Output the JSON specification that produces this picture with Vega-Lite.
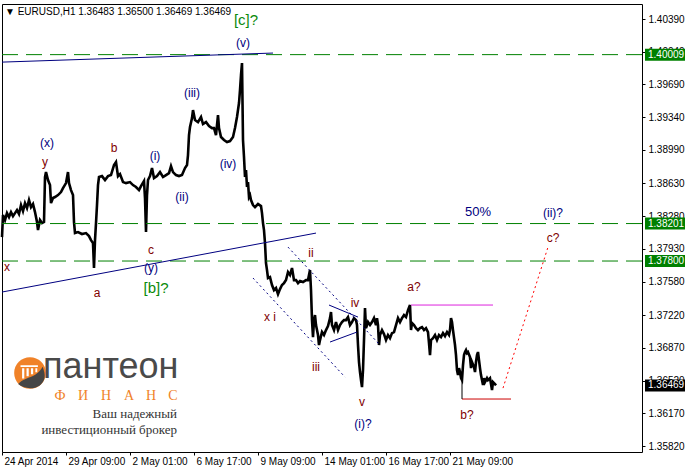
{
  "$schema": "https://vega.github.io/schema/vega-lite/v6.json",
  "width": 640,
  "height": 448,
  "autosize": {"type": "none"},
  "padding": {"left": 2, "top": 4, "right": 43, "bottom": 17},
  "background": "white",
  "config": {"view": {"stroke": "black", "strokeWidth": 1}, "axis": {"grid": false, "labelOverlap": false, "labelFlush": false}},
  "datasets": {
    "price": [
      {"i":0,"p":1.38056},{"i":1,"p":1.38292},{"i":3,"p":1.38238},{"i":5,"p":1.38313},{"i":7,"p":1.38271},{"i":9,"p":1.38324},{"i":11,"p":1.38281},{"i":13,"p":1.38313},{"i":15,"p":1.38345},{"i":17,"p":1.38303},{"i":19,"p":1.38399},{"i":21,"p":1.38335},{"i":23,"p":1.38420},{"i":25,"p":1.38367},{"i":27,"p":1.38452},{"i":29,"p":1.38377},{"i":31,"p":1.38410},{"i":33,"p":1.38324},{"i":35,"p":1.38217},{"i":36,"p":1.38131},{"i":38,"p":1.38238},{"i":40,"p":1.38206},{"i":42,"p":1.38217},{"i":43,"p":1.38699},{"i":44,"p":1.38752},{"i":46,"p":1.38667},{"i":48,"p":1.38613},{"i":49,"p":1.38420},{"i":51,"p":1.38474},{"i":53,"p":1.38485},{"i":56,"p":1.38506},{"i":59,"p":1.38538},{"i":61,"p":1.38581},{"i":64,"p":1.38634},{"i":66,"p":1.38752},{"i":67,"p":1.38634},{"i":69,"p":1.38559},{"i":71,"p":1.38506},{"i":72,"p":1.38217},{"i":73,"p":1.38099},{"i":76,"p":1.38110},{"i":80,"p":1.38089},{"i":84,"p":1.38099},{"i":87,"p":1.38067},{"i":89,"p":1.38024},{"i":91,"p":1.37992},{"i":92,"p":1.37725},{"i":93,"p":1.38024},{"i":94,"p":1.38206},{"i":95,"p":1.38399},{"i":96,"p":1.38613},{"i":97,"p":1.38699},{"i":100,"p":1.38709},{"i":103,"p":1.38667},{"i":106,"p":1.38709},{"i":109,"p":1.38720},{"i":112,"p":1.38827},{"i":114,"p":1.38859},{"i":116,"p":1.38709},{"i":118,"p":1.38731},{"i":121,"p":1.38645},{"i":124,"p":1.38634},{"i":128,"p":1.38645},{"i":131,"p":1.38613},{"i":134,"p":1.38592},{"i":137,"p":1.38559},{"i":139,"p":1.38602},{"i":142,"p":1.38656},{"i":143,"p":1.38474},{"i":144,"p":1.38110},{"i":145,"p":1.38506},{"i":146,"p":1.38667},{"i":148,"p":1.38709},{"i":150,"p":1.38795},{"i":152,"p":1.38688},{"i":155,"p":1.38709},{"i":158,"p":1.38752},{"i":161,"p":1.38699},{"i":164,"p":1.38720},{"i":167,"p":1.38741},{"i":169,"p":1.38816},{"i":171,"p":1.38752},{"i":174,"p":1.38720},{"i":177,"p":1.38709},{"i":180,"p":1.38720},{"i":183,"p":1.38795},{"i":185,"p":1.38827},{"i":186,"p":1.38934},{"i":187,"p":1.39148},{"i":188,"p":1.39234},{"i":190,"p":1.39330},{"i":191,"p":1.39416},{"i":193,"p":1.39309},{"i":196,"p":1.39287},{"i":199,"p":1.39341},{"i":201,"p":1.39266},{"i":204,"p":1.39287},{"i":207,"p":1.39244},{"i":210,"p":1.39223},{"i":212,"p":1.39223},{"i":214,"p":1.39148},{"i":216,"p":1.39362},{"i":217,"p":1.39223},{"i":219,"p":1.39127},{"i":222,"p":1.39095},{"i":225,"p":1.39073},{"i":228,"p":1.39084},{"i":231,"p":1.39127},{"i":233,"p":1.39223},{"i":235,"p":1.39341},{"i":237,"p":1.39491},{"i":238,"p":1.39630},{"i":239,"p":1.39790},{"i":240,"p":1.39919},{"i":241,"p":1.39095},{"i":242,"p":1.38913},{"i":243,"p":1.38699},{"i":244,"p":1.38774},{"i":245,"p":1.38592},{"i":246,"p":1.38645},{"i":247,"p":1.38485},{"i":248,"p":1.38506},{"i":249,"p":1.38452},{"i":251,"p":1.38399},{"i":253,"p":1.38377},{"i":256,"p":1.38410},{"i":259,"p":1.38388},{"i":260,"p":1.38313},{"i":261,"p":1.38206},{"i":262,"p":1.38131},{"i":263,"p":1.37992},{"i":264,"p":1.37778},{"i":265,"p":1.37703},{"i":266,"p":1.37618},{"i":268,"p":1.37628},{"i":270,"p":1.37543},{"i":272,"p":1.37489},{"i":274,"p":1.37511},{"i":276,"p":1.37446},{"i":278,"p":1.37500},{"i":280,"p":1.37543},{"i":282,"p":1.37564},{"i":284,"p":1.37596},{"i":286,"p":1.37682},{"i":288,"p":1.37650},{"i":290,"p":1.37725},{"i":292,"p":1.37596},{"i":294,"p":1.37596},{"i":296,"p":1.37564},{"i":298,"p":1.37586},{"i":301,"p":1.37575},{"i":304,"p":1.37596},{"i":306,"p":1.37596},{"i":307,"p":1.37650},{"i":308,"p":1.37703},{"i":309,"p":1.37489},{"i":310,"p":1.37168},{"i":311,"p":1.36986},{"i":312,"p":1.37168},{"i":313,"p":1.37222},{"i":314,"p":1.37115},{"i":316,"p":1.37008},{"i":317,"p":1.36901},{"i":318,"p":1.36954},{"i":320,"p":1.37040},{"i":322,"p":1.37008},{"i":324,"p":1.37061},{"i":326,"p":1.37104},{"i":328,"p":1.37189},{"i":329,"p":1.37254},{"i":330,"p":1.37115},{"i":332,"p":1.37061},{"i":334,"p":1.37147},{"i":336,"p":1.37061},{"i":338,"p":1.37115},{"i":340,"p":1.37147},{"i":342,"p":1.37168},{"i":344,"p":1.37168},{"i":346,"p":1.37200},{"i":348,"p":1.37115},{"i":350,"p":1.37147},{"i":352,"p":1.37189},{"i":354,"p":1.37168},{"i":355,"p":1.37115},{"i":356,"p":1.36901},{"i":357,"p":1.36719},{"i":358,"p":1.36612},{"i":359,"p":1.36526},{"i":360,"p":1.36451},{"i":361,"p":1.36633},{"i":362,"p":1.36954},{"i":363,"p":1.37297},{"i":364,"p":1.37082},{"i":366,"p":1.37147},{"i":368,"p":1.37115},{"i":370,"p":1.37147},{"i":372,"p":1.37189},{"i":374,"p":1.37115},{"i":375,"p":1.37189},{"i":376,"p":1.37115},{"i":377,"p":1.36901},{"i":378,"p":1.37008},{"i":380,"p":1.37061},{"i":382,"p":1.37018},{"i":384,"p":1.36954},{"i":386,"p":1.37008},{"i":388,"p":1.36975},{"i":390,"p":1.37029},{"i":392,"p":1.37040},{"i":394,"p":1.37115},{"i":396,"p":1.37189},{"i":398,"p":1.37147},{"i":400,"p":1.37189},{"i":402,"p":1.37222},{"i":404,"p":1.37200},{"i":406,"p":1.37275},{"i":408,"p":1.37329},{"i":409,"p":1.37061},{"i":410,"p":1.37136},{"i":412,"p":1.37115},{"i":414,"p":1.37082},{"i":416,"p":1.37061},{"i":418,"p":1.37082},{"i":420,"p":1.37093},{"i":422,"p":1.37061},{"i":424,"p":1.37082},{"i":426,"p":1.37040},{"i":427,"p":1.36922},{"i":428,"p":1.36793},{"i":429,"p":1.36954},{"i":431,"p":1.36975},{"i":433,"p":1.37008},{"i":435,"p":1.36954},{"i":437,"p":1.37008},{"i":439,"p":1.36986},{"i":441,"p":1.37029},{"i":443,"p":1.36997},{"i":445,"p":1.37040},{"i":447,"p":1.37008},{"i":448,"p":1.37061},{"i":449,"p":1.37189},{"i":450,"p":1.37147},{"i":451,"p":1.37061},{"i":453,"p":1.36901},{"i":454,"p":1.36793},{"i":455,"p":1.36633},{"i":456,"p":1.36579},{"i":457,"p":1.36654},{"i":458,"p":1.36612},{"i":459,"p":1.36547},{"i":460,"p":1.36526},{"i":461,"p":1.36686},{"i":462,"p":1.36793},{"i":463,"p":1.36826},{"i":464,"p":1.36847},{"i":465,"p":1.36815},{"i":466,"p":1.36826},{"i":468,"p":1.36772},{"i":469,"p":1.36654},{"i":470,"p":1.36719},{"i":472,"p":1.36665},{"i":473,"p":1.36612},{"i":474,"p":1.36719},{"i":475,"p":1.36793},{"i":476,"p":1.36826},{"i":477,"p":1.36740},{"i":478,"p":1.36654},{"i":479,"p":1.36579},{"i":480,"p":1.36526},{"i":481,"p":1.36472},{"i":482,"p":1.36547},{"i":483,"p":1.36504},{"i":485,"p":1.36547},{"i":486,"p":1.36526},{"i":488,"p":1.36547},{"i":490,"p":1.36419},{"i":491,"p":1.36504},{"i":493,"p":1.36483},{"i":494,"p":1.36469}
    ],
    "levels": [{"p": 1.40009}, {"p": 1.38201}, {"p": 1.378}],
    "navySolid": [
      {"i": 0, "p": 1.39929, "i2": 271, "p2": 1.40026},
      {"i": 0, "p": 1.37468, "i2": 314, "p2": 1.38099},
      {"i": 327, "p": 1.37329, "i2": 356, "p2": 1.372},
      {"i": 328, "p": 1.36933, "i2": 355, "p2": 1.3704}
    ],
    "navyDotted": [
      {"i": 251, "p": 1.37618, "i2": 343, "p2": 1.36558},
      {"i": 286, "p": 1.37949, "i2": 378, "p2": 1.36901}
    ],
    "magentaSeg": [{"i": 409, "p": 1.37329, "i2": 491, "p2": 1.37329}],
    "redSeg": [{"i": 460, "p": 1.36323, "i2": 509, "p2": 1.36323}],
    "blackSeg": [{"i": 460, "p": 1.36526, "i2": 460, "p2": 1.36323}],
    "redDotted": [{"i": 501, "p": 1.3644, "i2": 546, "p2": 1.37949}],
    "navyLabels": [
      {"i": 241, "p": 1.40133, "t": "(v)"},
      {"i": 190, "p": 1.39598, "t": "(iii)"},
      {"i": 226, "p": 1.38838, "t": "(iv)"},
      {"i": 153, "p": 1.38923, "t": "(i)"},
      {"i": 180, "p": 1.38485, "t": "(ii)"},
      {"i": 45, "p": 1.39063, "t": "(x)"},
      {"i": 149, "p": 1.37725, "t": "(y)"},
      {"i": 361, "p": 1.36055, "t": "(i)?"},
      {"i": 551, "p": 1.38313, "t": "(ii)?"}
    ],
    "bigNavy": [{"i": 476, "p": 1.38324, "t": "50%"}],
    "redLabels": [
      {"i": 43, "p": 1.38859, "t": "y"},
      {"i": 112, "p": 1.39009, "t": "b"},
      {"i": 149, "p": 1.37917, "t": "c"},
      {"i": 95, "p": 1.37457, "t": "a"},
      {"i": 5, "p": 1.37735, "t": "x"},
      {"i": 309, "p": 1.37885, "t": "ii"},
      {"i": 268, "p": 1.372, "t": "x i"},
      {"i": 314, "p": 1.36665, "t": "iii"},
      {"i": 353, "p": 1.3735, "t": "iv"},
      {"i": 360, "p": 1.3629, "t": "v"},
      {"i": 412, "p": 1.37521, "t": "a?"},
      {"i": 465, "p": 1.36151, "t": "b?"},
      {"i": 551, "p": 1.38046, "t": "c?"}
    ],
    "greenLabels": [
      {"i": 244, "p": 1.40379, "t": "[c]?"},
      {"i": 154, "p": 1.37511, "t": "[b]?"}
    ],
    "greenBoxes": [
      {"p": 1.40009, "t": "1.40009"},
      {"p": 1.38201, "t": "1.38201"},
      {"p": 1.378, "t": "1.37800"}
    ],
    "blackBoxes": [{"p": 1.36469, "t": "1.36469"}],
    "titleRow": [{"i": 3, "p": 1.40465, "t": "▼ EURUSD,H1  1.36483 1.36500 1.36469 1.36469"}],
    "logoMark": [{"i": 28, "p": 1.36601}],
    "logoWord": [{"i": 41, "p": 1.36547, "t": "пантеон"}],
    "logoLetters": [
      {"i": 58, "p": 1.36312, "t": "Ф"},
      {"i": 81, "p": 1.36312, "t": "И"},
      {"i": 104, "p": 1.36312, "t": "Н"},
      {"i": 127, "p": 1.36312, "t": "А"},
      {"i": 149, "p": 1.36312, "t": "Н"},
      {"i": 171, "p": 1.36312, "t": "С"}
    ],
    "logoTag": [
      {"i": 175, "p": 1.36119, "t": "Ваш надежный"},
      {"i": 175, "p": 1.35948, "t": "инвестиционный брокер"}
    ]
  },
  "layer": [
    {
      "data": {"name": "price"},
      "mark": {"type": "line", "color": "black", "strokeWidth": 2.6},
      "encoding": {
        "x": {
          "field": "i", "type": "quantitative", "title": null,
          "scale": {"domain": [0, 640], "nice": false, "zero": false},
          "axis": {
            "title": null, "orient": "bottom", "values": [0, 64, 128, 192, 256, 320, 384, 448], "tickCount": 40,
            "labelExpr": "['24 Apr 2014','29 Apr 09:00','2 May 01:00','6 May 17:00','9 May 09:00','14 May 01:00','16 May 17:00','21 May 09:00'][round(datum.value/64)]",
            "labelAlign": "left", "labelOffset": 2, "labelBaseline": "top", "labelPadding": 1,
            "tickSize": 3, "tickColor": "black", "domain": false, "grid": false,
            "labelFont": "Liberation Sans", "labelFontSize": 10, "labelColor": "black",
            "labelFlush": false, "labelOverlap": false
          }
        },
        "y": {
          "field": "p", "type": "quantitative", "title": null,
          "scale": {"domain": [1.35756, 1.40551], "nice": false, "zero": false},
          "axis": {
            "title": null, "orient": "right",
            "values": [1.3582, 1.3617, 1.3652, 1.3687, 1.3722, 1.3758, 1.3793, 1.3828, 1.3863, 1.3899, 1.3934, 1.3969, 1.4004, 1.4039],
            "tickCount": 40,
            "format": ".5f", "tickSize": 3, "tickColor": "black", "labelPadding": 3, "domain": false, "grid": false,
            "labelFont": "Liberation Sans", "labelFontSize": 10, "labelColor": "black",
            "labelFlush": false, "labelOverlap": false, "labelBound": false
          }
        }
      }
    },
    {
      "mark": {"type": "rule", "color": "#c0c0c0", "strokeWidth": 1},
      "encoding": {"y": {"datum": 1.36469, "type": "quantitative"}}
    },
    {
      "data": {"name": "levels"},
      "mark": {"type": "rule", "color": "#008000", "strokeWidth": 1, "strokeDash": [16, 8]},
      "encoding": {"y": {"field": "p", "type": "quantitative"}}
    },
    {
      "data": {"name": "navySolid"},
      "mark": {"type": "rule", "color": "#000080", "strokeWidth": 1},
      "encoding": {
        "x": {"field": "i", "type": "quantitative"}, "x2": {"field": "i2"},
        "y": {"field": "p", "type": "quantitative"}, "y2": {"field": "p2"}
      }
    },
    {
      "data": {"name": "navyDotted"},
      "mark": {"type": "rule", "color": "#000080", "strokeWidth": 1, "strokeDash": [2, 3]},
      "encoding": {
        "x": {"field": "i", "type": "quantitative"}, "x2": {"field": "i2"},
        "y": {"field": "p", "type": "quantitative"}, "y2": {"field": "p2"}
      }
    },
    {
      "data": {"name": "magentaSeg"},
      "mark": {"type": "rule", "color": "#dd22dd", "strokeWidth": 1},
      "encoding": {
        "x": {"field": "i", "type": "quantitative"}, "x2": {"field": "i2"},
        "y": {"field": "p", "type": "quantitative"}, "y2": {"field": "p2"}
      }
    },
    {
      "data": {"name": "redSeg"},
      "mark": {"type": "rule", "color": "#cc0000", "strokeWidth": 1},
      "encoding": {
        "x": {"field": "i", "type": "quantitative"}, "x2": {"field": "i2"},
        "y": {"field": "p", "type": "quantitative"}, "y2": {"field": "p2"}
      }
    },
    {
      "data": {"name": "blackSeg"},
      "mark": {"type": "rule", "color": "black", "strokeWidth": 1},
      "encoding": {
        "x": {"field": "i", "type": "quantitative"}, "x2": {"field": "i2"},
        "y": {"field": "p", "type": "quantitative"}, "y2": {"field": "p2"}
      }
    },
    {
      "data": {"name": "redDotted"},
      "mark": {"type": "rule", "color": "#ff0000", "strokeWidth": 1, "strokeDash": [2, 3]},
      "encoding": {
        "x": {"field": "i", "type": "quantitative"}, "x2": {"field": "i2"},
        "y": {"field": "p", "type": "quantitative"}, "y2": {"field": "p2"}
      }
    },
    {
      "data": {"name": "navyLabels"},
      "mark": {"type": "text", "color": "#000080", "font": "Liberation Sans", "fontSize": 12, "align": "center", "baseline": "middle"},
      "encoding": {
        "x": {"field": "i", "type": "quantitative"},
        "y": {"field": "p", "type": "quantitative"},
        "text": {"field": "t"}
      }
    },
    {
      "data": {"name": "bigNavy"},
      "mark": {"type": "text", "color": "#000080", "font": "Liberation Sans", "fontSize": 13, "align": "center", "baseline": "middle"},
      "encoding": {
        "x": {"field": "i", "type": "quantitative"},
        "y": {"field": "p", "type": "quantitative"},
        "text": {"field": "t"}
      }
    },
    {
      "data": {"name": "redLabels"},
      "mark": {"type": "text", "color": "#800000", "font": "Liberation Sans", "fontSize": 12, "align": "center", "baseline": "middle"},
      "encoding": {
        "x": {"field": "i", "type": "quantitative"},
        "y": {"field": "p", "type": "quantitative"},
        "text": {"field": "t"}
      }
    },
    {
      "data": {"name": "greenLabels"},
      "mark": {"type": "text", "color": "#0a8a0a", "font": "Liberation Sans", "fontSize": 15, "align": "center", "baseline": "middle"},
      "encoding": {
        "x": {"field": "i", "type": "quantitative"},
        "y": {"field": "p", "type": "quantitative"},
        "text": {"field": "t"}
      }
    },
    {
      "data": {"name": "logoMark"},
      "mark": {"type": "point", "shape": "circle", "size": 1000, "filled": true, "color": "#f08228", "opacity": 1, "strokeWidth": 0},
      "encoding": {
        "x": {"field": "i", "type": "quantitative"},
        "y": {"field": "p", "type": "quantitative"}
      }
    },
    {
      "data": {"name": "logoMark"},
      "mark": {"type": "point", "shape": "M-0.75,0.7 C-0.3,0.2 0.4,0.35 0.8,-0.4 C1.0,0.1 1.0,0.5 0.6,0.8 C0.2,1.05 -0.4,1.0 -0.75,0.7 Z", "size": 1000, "filled": true, "color": "#454545", "opacity": 1, "strokeWidth": 0},
      "encoding": {
        "x": {"field": "i", "type": "quantitative"},
        "y": {"field": "p", "type": "quantitative"}
      }
    },
    {
      "data": {"name": "logoMark"},
      "mark": {"type": "point", "shape": "M-0.6,-0.5H0.5V-0.38H-0.6Z M-0.5,-0.3H-0.36V0.35H-0.5Z M-0.22,-0.3H-0.08V0.2H-0.22Z M0.06,-0.3H0.2V0.08H0.06Z M0.34,-0.3H0.46V-0.05H0.34Z", "size": 1000, "filled": true, "color": "white", "opacity": 1, "strokeWidth": 0},
      "encoding": {
        "x": {"field": "i", "type": "quantitative"},
        "y": {"field": "p", "type": "quantitative"}
      }
    },
    {
      "data": {"name": "logoWord"},
      "mark": {"type": "text", "color": "#4a4a4a", "font": "Liberation Sans", "fontSize": 36, "align": "left", "baseline": "alphabetic"},
      "encoding": {
        "x": {"field": "i", "type": "quantitative"},
        "y": {"field": "p", "type": "quantitative"},
        "text": {"field": "t"}
      }
    },
    {
      "data": {"name": "logoLetters"},
      "mark": {"type": "text", "color": "#f08228", "font": "Liberation Serif", "fontSize": 14, "align": "center", "baseline": "alphabetic"},
      "encoding": {
        "x": {"field": "i", "type": "quantitative"},
        "y": {"field": "p", "type": "quantitative"},
        "text": {"field": "t"}
      }
    },
    {
      "data": {"name": "logoTag"},
      "mark": {"type": "text", "color": "#333333", "font": "Liberation Serif", "fontSize": 13, "align": "right", "baseline": "alphabetic"},
      "encoding": {
        "x": {"field": "i", "type": "quantitative"},
        "y": {"field": "p", "type": "quantitative"},
        "text": {"field": "t"}
      }
    },
    {
      "data": {"name": "greenBoxes"},
      "mark": {"type": "rect", "color": "#008000", "yOffset": -6, "y2Offset": 6},
      "encoding": {
        "x": {"datum": 643, "type": "quantitative"}, "x2": {"datum": 684},
        "y": {"field": "p", "type": "quantitative"}, "y2": {"field": "p"}
      }
    },
    {
      "data": {"name": "blackBoxes"},
      "mark": {"type": "rect", "color": "black", "yOffset": -6, "y2Offset": 6},
      "encoding": {
        "x": {"datum": 643, "type": "quantitative"}, "x2": {"datum": 684},
        "y": {"field": "p", "type": "quantitative"}, "y2": {"field": "p"}
      }
    },
    {
      "data": {"name": "greenBoxes"},
      "mark": {"type": "text", "color": "white", "font": "Liberation Sans", "fontSize": 10, "align": "left", "baseline": "middle"},
      "encoding": {
        "x": {"datum": 646, "type": "quantitative"},
        "y": {"field": "p", "type": "quantitative"},
        "text": {"field": "t"}
      }
    },
    {
      "data": {"name": "blackBoxes"},
      "mark": {"type": "text", "color": "white", "font": "Liberation Sans", "fontSize": 10, "align": "left", "baseline": "middle"},
      "encoding": {
        "x": {"datum": 646, "type": "quantitative"},
        "y": {"field": "p", "type": "quantitative"},
        "text": {"field": "t"}
      }
    },
    {
      "data": {"name": "titleRow"},
      "mark": {"type": "text", "color": "black", "font": "Liberation Sans", "fontSize": 10, "align": "left", "baseline": "middle"},
      "encoding": {
        "x": {"field": "i", "type": "quantitative"},
        "y": {"field": "p", "type": "quantitative"},
        "text": {"field": "t"}
      }
    }
  ]
}
